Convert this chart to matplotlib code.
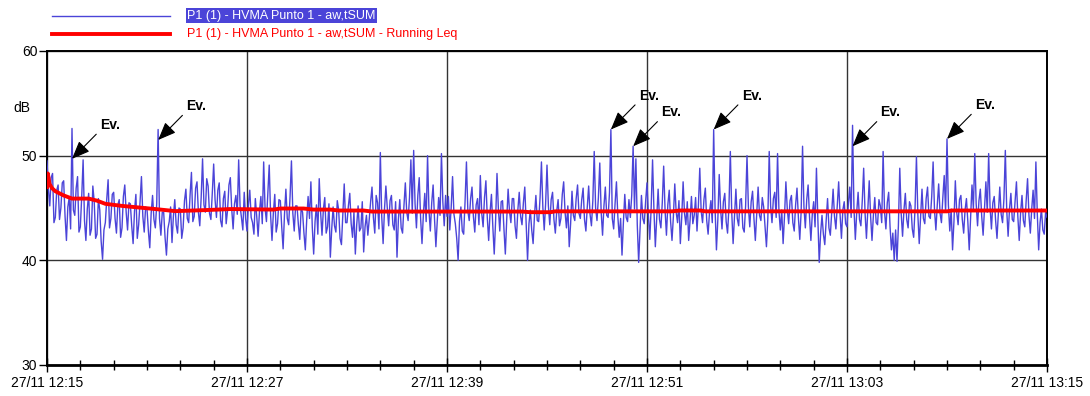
import matplotlib
matplotlib.use("Agg")
import matplotlib.pyplot as plt
from matplotlib.lines import Line2D

plt.rcParams['font.family'] = ['Liberation Sans', 'DejaVu Sans']

# minutes after 12:15, one sample every 5 s (12 per minute)
step_min = 1 / 12
level_db = [
    49.5, 46.8, 45.2, 47.9, 48.3, 43.6, 44.1, 46.7, 47.2, 43.9, 45.0, 47.4,
    47.6, 44.2, 41.9, 45.1, 46.0, 43.0, 52.6, 44.8, 44.3, 46.9, 48.0, 42.7,
    43.2, 46.1, 49.6, 43.8, 41.9, 44.9, 46.4, 42.4, 43.0, 47.1, 45.6, 42.1,
    42.5, 45.9, 44.8, 41.8, 40.1, 42.9, 43.6, 45.8, 47.7, 43.1, 44.0, 46.3,
    46.5, 44.0, 42.6, 45.3, 45.8, 42.2, 43.1, 46.1, 47.2, 44.6, 42.9, 45.5,
    45.4, 43.3, 41.6, 44.7, 46.3, 42.1, 43.4, 45.6, 48.0, 44.2, 42.7, 45.1,
    44.9, 42.8, 41.2, 44.5, 46.2, 43.9, 43.1, 45.4, 52.5, 44.0, 42.4, 44.6,
    44.6, 42.2, 40.5, 43.0, 43.7, 45.1, 41.7, 44.2, 45.8, 43.4, 42.6, 45.0,
    44.9, 42.1, 43.1, 45.7, 46.8, 44.0, 43.6, 46.2, 48.4, 43.7, 44.2, 46.9,
    47.5, 44.6, 43.3, 46.0, 49.7, 45.3, 44.6, 47.8, 47.1, 44.5, 43.9, 46.4,
    49.2, 45.8, 44.1, 46.7, 47.4, 43.8, 43.2, 45.9, 46.6, 43.5, 44.8, 47.2,
    47.9, 44.9, 43.0, 45.4, 46.2, 44.4, 49.6, 45.2, 44.1, 42.9, 46.5, 44.0,
    42.8, 45.3, 46.7, 44.1, 43.6, 42.5, 45.9, 44.2, 42.3, 44.7, 46.1, 43.5,
    49.4, 45.0, 43.7, 46.4, 49.1, 44.3, 41.9, 44.6, 46.3, 42.7, 43.5, 45.8,
    45.7, 43.2, 41.1, 44.4, 46.8, 44.0, 43.4, 46.1, 49.5, 44.5, 42.8, 45.2,
    45.2, 43.4, 42.0, 45.0, 44.6, 42.6, 41.0, 43.9, 46.1, 44.0, 47.5, 43.2,
    40.6, 43.7, 45.3, 42.5, 47.8, 44.6, 42.4, 44.9, 46.0, 42.6, 43.2, 45.4,
    40.3, 43.0, 45.1, 43.3, 42.7, 45.7, 44.8, 42.1, 41.5, 44.3, 47.3, 43.6,
    43.6, 45.2, 46.4, 43.5, 42.2, 44.6, 40.6, 43.4, 45.2, 42.8, 43.1, 45.6,
    40.8, 43.2, 44.3, 42.4, 43.9, 45.6, 47.0, 44.1, 42.6, 46.2, 45.5, 43.0,
    50.3, 44.2, 41.6, 44.9, 47.1, 45.0, 43.3, 45.7, 46.2, 43.4, 42.9, 45.6,
    40.3, 43.9, 45.8, 43.1, 42.6, 45.2, 47.4, 44.6, 43.8, 46.0, 49.6, 44.5,
    50.5, 45.4, 43.1, 46.2, 47.9, 44.0, 41.6, 44.4, 46.4, 43.7, 50.0, 44.8,
    42.8, 45.5, 47.2, 44.0, 41.3, 43.8, 46.0, 44.3, 50.2, 45.6, 43.3, 46.2,
    44.2, 46.1, 42.9, 45.0, 48.0, 44.4, 43.5, 42.1, 40.0, 43.7, 45.1, 42.8,
    42.5, 45.6, 49.4, 44.7, 43.8, 45.9, 47.0, 44.2, 42.7, 45.3, 45.9, 43.4,
    48.1, 44.5, 43.2, 46.0, 47.6, 44.1, 41.9, 44.6, 46.3, 43.2, 40.6, 43.8,
    48.3, 44.9, 42.8, 45.6, 45.7, 43.0, 40.6, 43.9, 46.8, 44.7, 43.6, 45.9,
    45.9, 43.3, 42.1, 44.8, 46.5, 44.2, 43.4, 45.5, 47.0, 43.6, 40.0, 43.5,
    44.8, 42.9, 41.6, 44.3, 46.2, 43.8, 43.7, 46.0, 49.4, 45.1, 42.9, 45.4,
    49.1, 45.2, 43.4, 45.8, 46.5, 43.9, 42.6, 44.7, 45.8, 43.3, 44.0, 46.3,
    47.5, 44.6, 43.1, 45.2, 41.3, 43.5, 46.6, 44.3, 43.8, 45.9, 47.2, 44.5,
    44.0, 45.8, 46.9, 43.9, 42.8, 45.1, 47.1, 44.4, 43.3, 45.7, 50.4, 45.0,
    43.8, 46.0, 49.3, 44.6, 42.4, 45.2, 47.0, 44.3, 44.1, 46.5, 52.5, 44.0,
    43.0, 45.4, 47.5, 44.2, 42.2, 44.0, 40.5, 43.6, 46.3, 44.1, 43.7, 45.8,
    44.1, 46.2, 50.9, 44.9, 49.7, 43.4, 39.8, 43.1, 46.2, 44.0, 43.5, 45.6,
    47.4, 44.3, 42.0, 45.0, 49.6, 44.8, 41.3, 44.1, 46.8, 43.9, 43.1, 45.5,
    49.0, 44.8, 42.4, 45.3, 46.7, 43.7, 41.9, 44.2, 47.3, 44.6, 43.6, 45.7,
    41.6, 44.1, 47.5, 44.5, 43.4, 45.6, 41.9, 43.8, 46.1, 43.5, 44.3, 46.0,
    42.8, 45.2, 48.8, 44.7, 43.6, 45.8, 46.9, 43.8, 42.5, 44.6, 45.7, 43.6,
    52.5, 45.0, 41.0, 43.9, 48.2, 44.9, 43.0, 45.6, 46.4, 43.7, 42.6, 45.1,
    50.4, 44.6, 41.6, 44.3, 46.8, 44.0, 43.3, 45.8, 45.9, 43.1, 42.7, 45.2,
    50.0, 45.1, 43.2, 45.6, 46.6, 44.0, 41.9, 44.5, 47.0, 44.3, 43.8, 46.0,
    45.1, 43.2, 41.3, 44.0, 50.4, 45.2, 43.6, 45.9, 46.5, 44.1, 50.2, 44.7,
    42.9, 44.8, 41.6, 44.2, 47.5, 44.9, 43.5, 45.7, 46.2, 43.6, 42.8, 45.3,
    46.9, 44.1, 42.0, 44.7, 50.9, 45.1, 43.1, 45.8, 47.2, 44.2, 41.9, 44.4,
    45.6, 43.2, 48.8, 44.0, 39.8, 42.6, 44.3, 42.5, 41.5, 43.8, 45.9, 43.1,
    42.4, 44.6, 46.8, 44.2, 43.0, 45.3, 47.5, 44.4, 42.1, 44.8, 45.6, 43.5,
    43.2, 45.5, 47.0, 44.1, 52.9, 45.0, 42.0, 44.6, 46.5, 43.9, 43.3, 45.7,
    48.8, 44.5, 42.1, 44.9, 47.6, 44.2, 41.9, 44.3, 46.0, 43.6, 43.4, 45.8,
    45.2, 43.6, 50.4, 44.7, 43.0, 45.5, 46.5, 43.2, 41.0, 42.6, 40.0, 42.9,
    39.9, 43.3, 48.8, 44.5, 42.3, 44.8, 46.4, 43.9, 43.1, 45.6, 45.2, 43.0,
    42.2, 45.0, 49.9, 44.4, 41.6, 44.3, 46.8, 44.0, 43.5, 45.9, 47.0, 44.2,
    44.0, 46.1, 49.4, 44.8, 42.9, 45.3, 47.3, 44.5, 43.6, 46.0, 48.1, 44.6,
    51.6, 45.3, 42.8, 44.9, 41.0, 43.7, 47.6, 44.6, 43.4, 45.8, 46.2, 43.9,
    42.6, 44.8, 45.9, 43.7, 41.0, 44.2, 47.2, 44.9, 50.2, 45.4, 43.3, 45.7,
    46.8, 44.2, 42.4, 45.0, 47.5, 44.6, 50.2, 45.1, 43.0, 45.5, 46.1, 43.8,
    42.1, 44.5, 47.0, 44.4, 43.6, 45.9, 50.5, 44.8, 42.3, 44.9, 46.4, 43.9,
    43.7, 45.6, 47.5, 44.2, 41.9, 44.6, 46.2, 43.8, 43.2, 45.7, 47.8, 44.3,
    42.6, 44.9, 46.7, 44.0, 49.4, 44.5, 41.0, 43.6, 44.9, 42.9, 42.5, 44.6,
    44.1,
]
level_t = [i * step_min for i in range(len(level_db))]

# running Leq
leq_t = [0.0, 0.05, 0.15, 0.3, 0.5, 1.0, 1.5, 2.5, 3.0, 3.5, 4.5, 5.5, 6.5, 7.7,
         9.5, 11.0, 13.6, 14.0, 15.4, 16.0, 17.0, 17.5, 19.0, 19.5, 28.5, 29.0,
         30.2, 30.5, 37.5, 38.0, 39.2, 39.5, 54.0, 54.3, 60.0]
leq_db = [47.0, 48.3, 47.3, 46.9, 46.6, 46.2, 45.9, 45.9, 45.7, 45.4, 45.2, 45.05,
          44.9, 44.7, 44.8, 44.9, 44.85, 44.95, 44.95, 44.85, 44.85, 44.76, 44.76,
          44.66, 44.66, 44.6, 44.6, 44.68, 44.68, 44.76, 44.76, 44.68, 44.68,
          44.76, 44.76]

# events (minutes, level where the arrow points)
ev_t = [1.5, 6.67, 33.83, 35.17, 40.0, 48.33, 54.0]
ev_db = [49.7, 51.5, 52.5, 50.9, 52.5, 50.9, 51.6]

tick_t = [0, 12, 24, 36, 48, 60]
tick_labels = ['27/11 12:15', '27/11 12:27', '27/11 12:39',
               '27/11 12:51', '27/11 13:03', '27/11 13:15']

blue = '#4B44D8'
red = '#FF0000'

fig = plt.figure(figsize=(10.9, 3.96), dpi=100)
ax = fig.add_axes([47 / 1090, 1 - 365 / 396, 1000 / 1090, 314 / 396])

ax.plot(level_t, level_db, color=blue, lw=1.0, zorder=3)
ax.plot(leq_t, leq_db, color=red, lw=2.8, zorder=4)

for t, v in zip(ev_t, ev_db):
    ax.annotate('Ev.', xy=(t, v), xytext=(28, 34), textcoords='offset pixels',
                ha='left', va='center', fontsize=10, fontweight='bold',
                arrowprops=dict(arrowstyle='-|>,head_length=1.1,head_width=0.45',
                                color='black', lw=0.8, mutation_scale=10,
                                shrinkA=1, shrinkB=0, relpos=(0.0, 0.1)),
                zorder=5)

ax.set_xlim(0, 60)
ax.set_ylim(30, 60)
ax.set_xticks(tick_t)
ax.set_xticklabels(tick_labels, fontsize=10)
ax.set_xticks(range(0, 61, 2), minor=True)
ax.set_yticks([30, 40, 50, 60])
ax.tick_params(axis='x', which='major', direction='inout', length=10, width=1, pad=3)
ax.tick_params(axis='x', which='minor', direction='inout', length=7, width=1)
ax.tick_params(axis='y', direction='out', length=6, width=1, labelsize=10, pad=1)
ax.grid(True, which='major', color='#333333', lw=1, zorder=1)
for s in ax.spines.values():
    s.set_linewidth(1.4)
ax.spines['bottom'].set_linewidth(2)

ax.text(-0.017, 0.82, 'dB', transform=ax.transAxes, ha='right', va='center', fontsize=10)

# legend drawn at top
fig.add_artist(Line2D([52 / 1090, 170 / 1090], [1 - 15.5 / 396] * 2, color=blue, lw=1))
fig.add_artist(Line2D([52 / 1090, 170 / 1090], [1 - 34 / 396] * 2, color=red, lw=2.8))
fig.text(187 / 1090, 1 - 15.5 / 396, 'P1 (1) - HVMA Punto 1 - aw,tSUM', color='white',
         fontsize=9, va='center', ha='left',
         bbox=dict(boxstyle='square,pad=0.12', fc=blue, ec='none'))
fig.text(187 / 1090, 1 - 34 / 396, 'P1 (1) - HVMA Punto 1 - aw,tSUM - Running Leq',
         color=red, fontsize=9, va='center', ha='left')

fig.savefig('out.png', dpi=100)
